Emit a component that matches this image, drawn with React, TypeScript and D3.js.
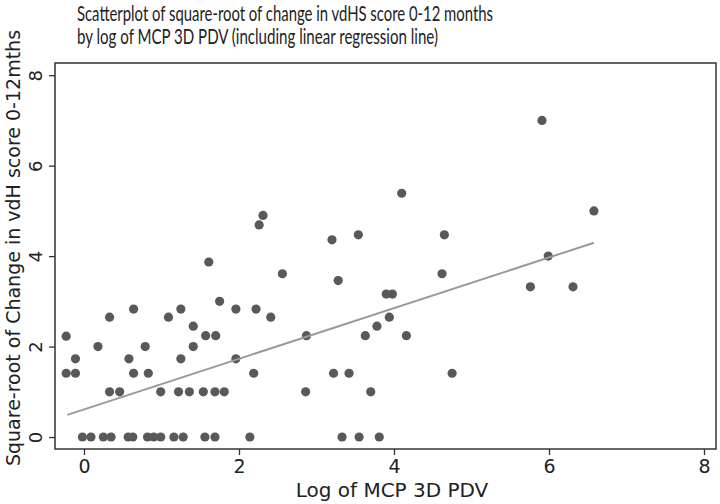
import React, { useEffect, useRef } from 'react';
import * as d3 from 'd3';

// log of MCP 3D PDV
const pdvLog = [
  -0.23, -0.11, -0.23, -0.11, 0.18, 0.33, 0.33, 0.46, 0.58, 0.64, 0.64, 0.79, 0.83, 0.99,
  1.09, 1.25, 1.25, 1.22, 1.36, 1.41, 1.41, 1.54, 1.69, 1.81, 1.57, 1.7, 1.61, 1.75, 1.96,
  1.96, 2.22, 2.19, 2.41, 2.56, 2.31, 2.26, 3.2, 3.54, 4.1, 4.65, 3.28, 4.62, 3.9, 3.98,
  3.94, 3.78, 2.87, 3.63, 4.16, 3.22, 3.42, 4.75, 2.86, 3.7, 5.91, 6.58, 5.99, 5.76, 6.31,
  // zero change
  -0.02, 0.09, 0.25, 0.35, 0.57, 0.63, 0.82, 0.9, 0.99, 1.16, 1.28, 1.56, 1.69, 2.14, 3.33,
  3.55, 3.81,
];

// square-root of change in vdH score
const sqrtChange = [
  2.23, 1.73, 1.41, 1.41, 2.0, 2.65, 1.0, 1.0, 1.73, 2.83, 1.41, 2.0, 1.41, 1.0,
  2.65, 2.83, 1.73, 1.0, 1.0, 2.45, 2.0, 1.0, 1.0, 1.0, 2.24, 2.24, 3.87, 3.0, 2.83,
  1.73, 2.83, 1.41, 2.65, 3.61, 4.9, 4.69, 4.36, 4.47, 5.39, 4.47, 3.46, 3.61, 3.16, 3.16,
  2.65, 2.45, 2.24, 2.24, 2.24, 1.41, 1.41, 1.41, 1.0, 1.0, 7.0, 5.0, 4.0, 3.32, 3.32,
  0, 0, 0, 0, 0, 0, 0, 0, 0, 0, 0, 0, 0, 0, 0,
  0, 0,
];

// fitted regression line
const fitIntercept = 0.61;
const fitSlope = 0.56;
const fitRange = [-0.215, 6.58];

const xTicks = [0, 2, 4, 6, 8];
const yTicks = [0, 2, 4, 6, 8];

const titleLines = [
  'Scatterplot of square-root of change in vdHS score 0-12 months',
  'by log of MCP 3D PDV (including linear regression line)',
];

const Chart = () => {
  const ref = useRef(null);

  useEffect(() => {
    if (!ref.current) return;
    const svg = d3.select(ref.current);
    svg.selectAll('*').remove();

    const left = 55, right = 716, top = 63, bottom = 449;
    const x = d3.scaleLinear().domain([-0.374, 8.155]).range([left, right]);
    const y = d3.scaleLinear().domain([-0.265, 8.27]).range([bottom, top]);

    svg.append('rect').attr('width', 720).attr('height', 504).attr('fill', '#fff');

    // title
    const titleWidths = [416, 361];
    titleLines.forEach((t, i) => {
      svg
        .append('text')
        .attr('x', 77)
        .attr('y', 21 + i * 23)
        .attr('font-family', 'Lato')
        .attr('font-size', 21)
        .attr('fill', '#222')
        .attr('textLength', titleWidths[i])
        .attr('lengthAdjust', 'spacingAndGlyphs')
        .text(t);
    });

    // points
    svg
      .append('g')
      .selectAll('circle')
      .data(pdvLog.map((v, i) => [v, sqrtChange[i]]))
      .enter()
      .append('circle')
      .attr('cx', (d) => x(d[0]))
      .attr('cy', (d) => y(d[1]))
      .attr('r', 4.6)
      .attr('fill', '#595959');

    // regression line
    const line = d3
      .line()
      .x((d) => x(d))
      .y((d) => y(fitIntercept + fitSlope * d));
    svg
      .append('path')
      .attr('d', line(fitRange))
      .attr('fill', 'none')
      .attr('stroke', '#9a9a9a')
      .attr('stroke-width', 2);

    // frame
    svg
      .append('rect')
      .attr('x', left)
      .attr('y', top)
      .attr('width', right - left)
      .attr('height', bottom - top)
      .attr('fill', 'none')
      .attr('stroke', '#333')
      .attr('stroke-width', 1.5);

    // x axis
    const xAxis = svg
      .append('g')
      .attr('transform', `translate(0,${bottom})`)
      .call(d3.axisBottom(x).tickValues(xTicks).tickSize(6).tickPadding(5).tickFormat(d3.format('d')));
    xAxis.select('.domain').remove();
    xAxis.selectAll('line').attr('stroke', '#333').attr('stroke-width', 1.3);
    xAxis
      .selectAll('text')
      .attr('font-family', 'DejaVu Sans')
      .attr('font-size', 19)
      .attr('fill', '#222');

    // y axis, labels rotated
    const yAxis = svg
      .append('g')
      .attr('transform', `translate(${left},0)`)
      .call(d3.axisLeft(y).tickValues(yTicks).tickSize(6).tickFormat(d3.format('d')));
    yAxis.select('.domain').remove();
    yAxis.selectAll('line').attr('stroke', '#333').attr('stroke-width', 1.3);
    yAxis
      .selectAll('text')
      .attr('font-family', 'DejaVu Sans')
      .attr('font-size', 18)
      .attr('fill', '#222')
      .attr('x', null)
      .attr('dy', null)
      .attr('text-anchor', 'middle')
      .attr('transform', 'translate(-13,0) rotate(-90)');

    // axis titles
    svg
      .append('text')
      .attr('x', 392)
      .attr('y', 497)
      .attr('text-anchor', 'middle')
      .attr('font-family', 'DejaVu Sans')
      .attr('font-size', 20)
      .attr('fill', '#222')
      .text('Log of MCP 3D PDV');

    svg
      .append('text')
      .attr('transform', 'translate(20,248) rotate(-90)')
      .attr('text-anchor', 'middle')
      .attr('font-family', 'DejaVu Sans')
      .attr('font-size', 19)
      .attr('fill', '#222')
      .text('Square-root of Change in vdH score 0-12mths');
  }, []);

  return (
    <svg
      ref={ref}
      width={720}
      height={504}
      style={{ position: 'absolute', left: 0, top: 0 }}
    />
  );
};

export default function App() {
  return <Chart />;
}
